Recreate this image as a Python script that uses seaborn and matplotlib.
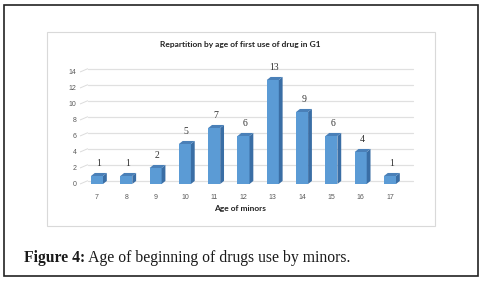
import matplotlib
matplotlib.use("Agg")
import matplotlib.pyplot as plt
import seaborn as sns
import pandas as pd
from matplotlib.patches import Polygon, Rectangle

ages = ["7", "8", "9", "10", "11", "12", "13", "14", "15", "16", "17"]
counts = [1, 1, 2, 5, 7, 6, 13, 9, 6, 4, 1]
yticks = [0, 2, 4, 6, 8, 10, 12, 14]

title = "Repartition by age of first use of drug in G1"
xlabel = "Age of minors"
caption_bold = "Figure 4:"
caption_rest = " Age of beginning of drugs use by minors."

sns.set_theme(style="white")
plt.rcParams["font.family"] = ["Lato", "DejaVu Sans"]

W, H = 483, 285
fig = plt.figure(figsize=(W / 100, H / 100), dpi=100)
fig.patch.set_facecolor("white")

# outer black frame
fig.add_artist(Rectangle((3.5 / W, 1 - 276 / H), 474 / W, 271 / H,
                         transform=fig.transFigure, fill=False,
                         edgecolor="#222222", linewidth=1.2))
# inner chart frame
fig.add_artist(Rectangle((46.5 / W, 1 - 225.5 / H), 388.5 / W, 193.5 / H,
                         transform=fig.transFigure, fill=False,
                         edgecolor="#d9d9d9", linewidth=0.8))

xl, xr = -0.58, 10.8
yl, yh = 0, 15
px_x = 29.3
px_y = 8.0
left_px = 97 + xl * px_x
right_px = 97 + xr * px_x
bottom_px = 184
ax = fig.add_axes([left_px / W, 1 - bottom_px / H,
                   (right_px - left_px) / W, (yh - yl) * px_y / H])
ax.set_facecolor("none")

df = pd.DataFrame({"age": ages, "count": counts})
sns.barplot(data=df, x="age", y="count", ax=ax, color="#5B9BD5",
            width=0.41, saturation=1, linewidth=0, zorder=3)
ax.set_xlim(xl, xr)
ax.set_ylim(yl, yh)

# back wall gridlines with perspective slant
gdx, gdy = 0.27, 0.42
for v in yticks:
    ax.plot([xl, xl + gdx], [v, v + gdy], color="#dcdcdc", lw=0.7,
            zorder=1, clip_on=False, solid_capstyle="butt")
    ax.plot([xl + gdx, xr], [v + gdy, v + gdy], color="#e0e0e0", lw=0.9,
            zorder=1, clip_on=False)
    ax.text(xl - 0.12, v, str(v), ha="right", va="center", fontsize=5,
            color="#595959", family=["Liberation Sans", "DejaVu Sans"])

# 3D sides and tops for bars
bdx, bdy = 0.13, 0.38
for p, val in zip(ax.patches, counts):
    x0 = p.get_x()
    w = p.get_width()
    h = p.get_height()
    x1 = x0 + w
    side = Polygon([(x1, 0), (x1 + bdx, bdy), (x1 + bdx, h + bdy), (x1, h)],
                   closed=True, facecolor="#3A6EA5", edgecolor="none", zorder=3)
    top = Polygon([(x0, h), (x0 + bdx, h + bdy), (x1 + bdx, h + bdy), (x1, h)],
                  closed=True, facecolor="#4A80B8", edgecolor="none", zorder=3)
    ax.add_patch(side)
    ax.add_patch(top)
    ax.text(x0 + w / 2 + 0.05, h + 1.5, str(val), ha="center", va="center",
            fontsize=7, color="#333333",
            family=["Liberation Serif", "DejaVu Serif"])

ax.set_xticks(range(len(ages)))
ax.set_xticklabels(ages, fontsize=5, color="#595959",
                   family=["Liberation Sans", "DejaVu Sans"])
ax.tick_params(axis="x", length=0, pad=7)
ax.set_yticks([])
ax.set_xlabel("")
ax.set_ylabel("")
for s in ax.spines.values():
    s.set_visible(False)

fig.text(240 / W, 1 - 45 / H, title, ha="center", va="center",
         fontsize=6, fontweight="bold", color="#222222")
fig.text(240 / W, 1 - 209 / H, xlabel, ha="center", va="center",
         fontsize=6, fontweight="bold", color="#222222")

# caption
t1 = fig.text(24 / W, 1 - 258 / H, caption_bold, ha="left", va="center",
              fontsize=11.3, fontweight="bold", color="#1a1a1a",
              family=["Liberation Serif", "DejaVu Serif"])
fig.canvas.draw()
bb = t1.get_window_extent()
fig.text(bb.x1 / W, 1 - 258 / H, caption_rest, ha="left", va="center",
         fontsize=11.3, color="#1a1a1a",
         family=["Liberation Serif", "DejaVu Serif"])

fig.savefig("out.png", dpi=100, facecolor="white")
